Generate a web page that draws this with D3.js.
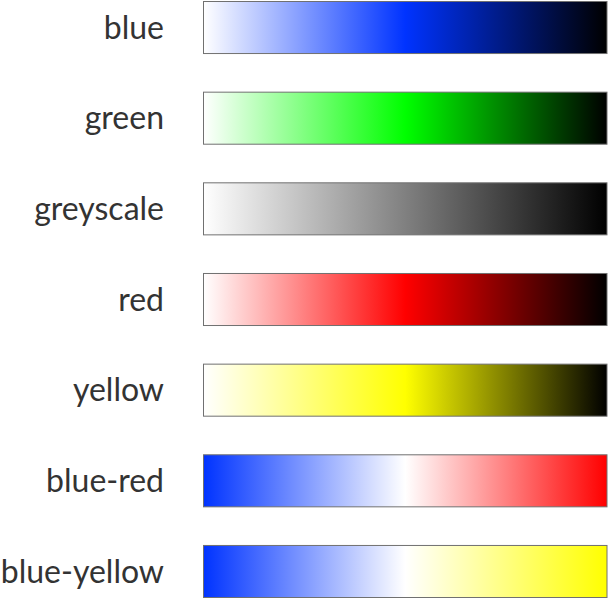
<!DOCTYPE html>
<html>
<head>
<meta charset="utf-8">
<script src="https://cdn.jsdelivr.net/npm/d3@7"></script>
<style>
html,body{margin:0;padding:0;background:#fff;}
svg{display:block;}
</style>
</head>
<body>
<svg id="chart" width="608" height="600"></svg>
<script>
const rampNames = ["blue", "green", "greyscale", "red", "yellow", "blue-red", "blue-yellow"];
const rampStops = [
  ["#ffffff", "#0033ff", "#000000"],
  ["#ffffff", "#00ff00", "#000000"],
  ["#ffffff", "#808080", "#000000"],
  ["#ffffff", "#ff0000", "#000000"],
  ["#ffffff", "#ffff00", "#000000"],
  ["#0033ff", "#ffffff", "#ff0000"],
  ["#0033ff", "#ffffff", "#ffff00"]
];

const W = 608, H = 600;
const svg = d3.select("#chart");
const y = d3.scaleBand().domain(rampNames).range([1, 598]).paddingInner(0.415).paddingOuter(0);
const x = d3.scaleLinear().domain([0, 1]).range([203.5, 607]);

const defs = svg.append("defs");
rampNames.forEach((n, i) => {
  const g = defs.append("linearGradient").attr("id", "grad" + i)
    .attr("x1", "0%").attr("x2", "100%").attr("y1", "0%").attr("y2", "0%");
  const stops = rampStops[i];
  stops.forEach((c, j) => {
    g.append("stop").attr("offset", (j / (stops.length - 1) * 100) + "%").attr("stop-color", c);
  });
});

const rows = svg.selectAll("g.row").data(rampNames).join("g").attr("class", "row");
rows.append("rect")
  .attr("x", x(0))
  .attr("y", d => y(d) + 0.5)
  .attr("width", x(1) - x(0))
  .attr("height", y.bandwidth() - 1)
  .attr("fill", (d, i) => `url(#grad${i})`)
  .attr("stroke", "#707070")
  .attr("stroke-width", 1);
rows.append("text")
  .attr("x", 164)
  .attr("y", d => y(d) + y.bandwidth() / 2)
  .attr("dy", "0.35em")
  .attr("text-anchor", "end")
  .attr("font-family", "Lato, sans-serif")
  .attr("font-size", 32)
  .attr("fill", "#333333")
  .text(d => d);
</script>
</body>
</html>
